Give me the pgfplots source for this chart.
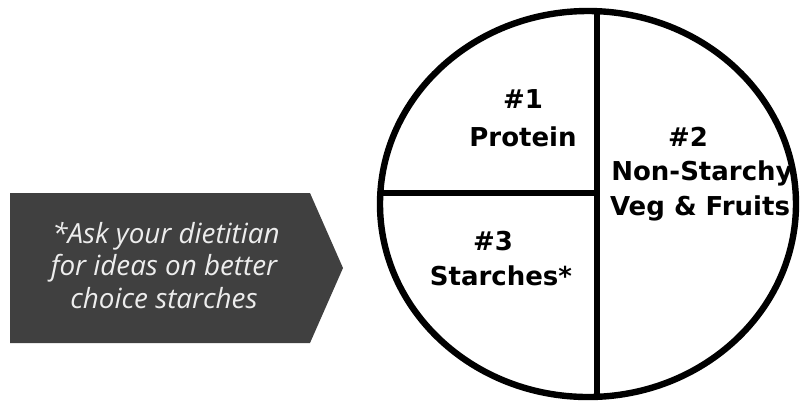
\documentclass[border=0pt]{standalone}
\usepackage{pgfplots}
\pgfplotsset{compat=1.18}
\usepackage{fontspec}
\setmainfont{DejaVu Sans}
\newfontfamily\notefont{Open Sans}
\definecolor{boxgray}{HTML}{404040}
\definecolor{notetext}{HTML}{EDEDED}

\begin{document}
\begin{tikzpicture}
\begin{axis}[
  width=400pt, height=201pt,
  scale only axis,
  xmin=0, xmax=800,
  ymin=0, ymax=402,
  axis lines=none,
  clip=false,
]

% gray arrow box (pixel coordinates, y upward)
\addplot [draw=none, fill=boxgray] coordinates {
  (10,209) (310,209) (343,134) (310,59) (10,59)
} -- cycle;

% plate rim
\draw [black, line width=3.2pt] (axis cs:588,198) ellipse [x radius=208, y radius=193];

% dividers
\addplot [black, line width=3pt] coordinates {(597,5) (597,391)};
\addplot [black, line width=2.8pt] coordinates {(380,209) (597,209)};

% section labels
\begin{scope}[every node/.style={anchor=base, font=\fontsize{13}{16}\selectfont\bfseries, inner sep=0pt}]
\node at (axis cs:523,294) {\#1};
\node at (axis cs:523,256) {Protein};
\node at (axis cs:688,256) {\#2};
\node at (axis cs:702,222) {Non-Starchy};
\node at (axis cs:700,187) {Veg \& Fruits};
\node at (axis cs:493,152) {\#3};
\node at (axis cs:501,117) {Starches*};
\end{scope}

% note text
\begin{scope}[every node/.style={anchor=base, text=notetext, font=\notefont\fontsize{13.9}{16}\selectfont\itshape, inner sep=0pt}]
\node at (axis cs:166,159) {*Ask your dietitian};
\node at (axis cs:164,127) {for ideas on better};
\node at (axis cs:164,94) {choice starches};
\end{scope}
\end{axis}
\pgfresetboundingbox
\path (current axis.south west) rectangle (current axis.north east);
\end{tikzpicture}
\end{document}
